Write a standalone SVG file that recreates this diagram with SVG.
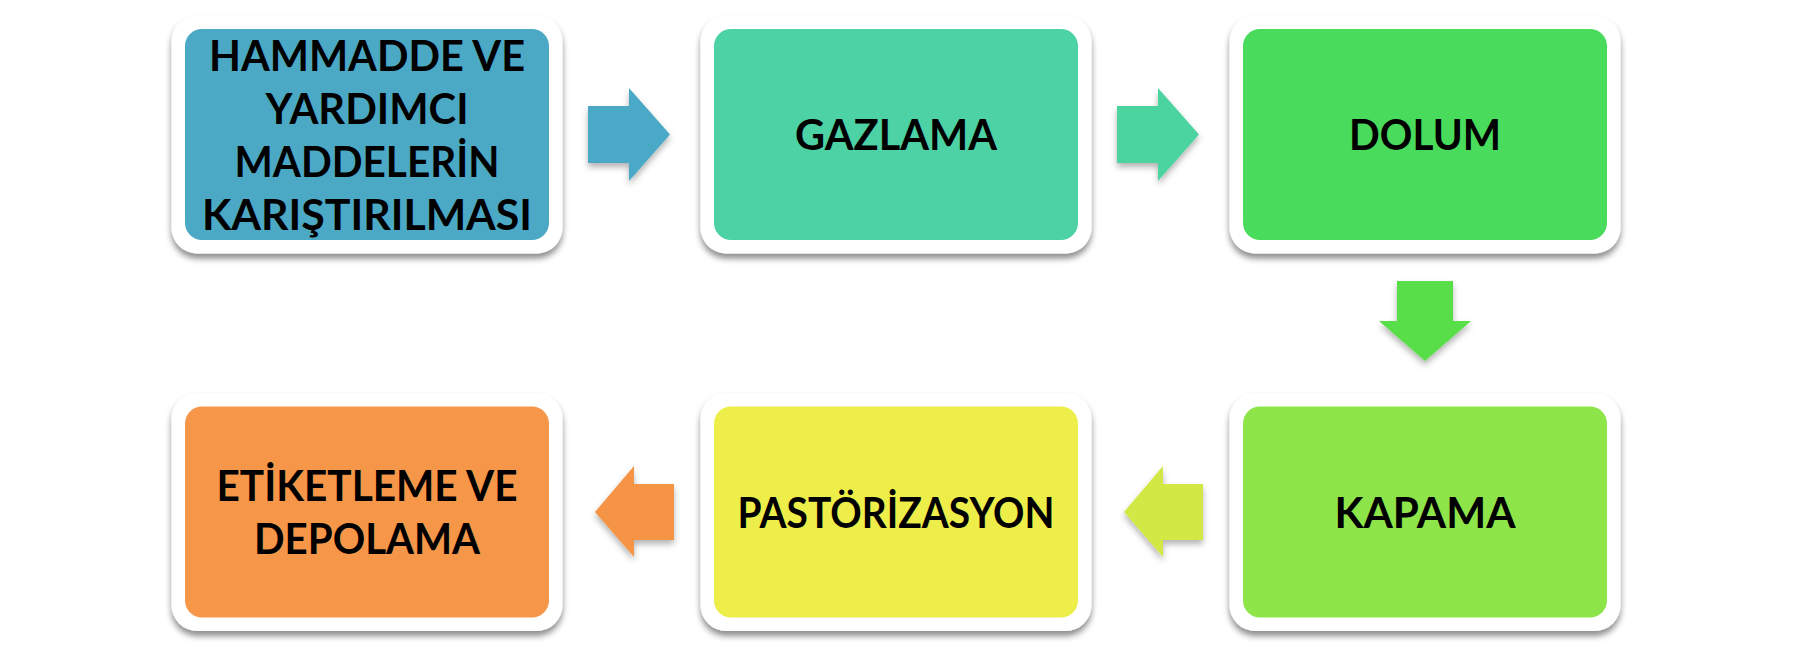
<svg xmlns="http://www.w3.org/2000/svg" width="1793" height="654" viewBox="0 0 1793 654">
<defs>
<filter id="sh" x="-10%" y="-10%" width="120%" height="130%">
<feDropShadow dx="0" dy="5" stdDeviation="3" flood-color="#000" flood-opacity="0.45"/>
</filter>
<filter id="ash" x="-20%" y="-20%" width="140%" height="150%">
<feDropShadow dx="0" dy="4" stdDeviation="3" flood-color="#000" flood-opacity="0.3"/>
</filter>
<style>
.frame{fill:#ffffff;filter:url(#sh);}
.lbl{font-family:Lato,"Open Sans","Liberation Sans",sans-serif;font-weight:bold;font-size:42.5px;fill:#000;text-anchor:middle;}
.arrow{filter:url(#ash);}
</style>
</defs>
<rect width="1793" height="654" fill="#ffffff"/>
<g id="connectors">
<polygon class="arrow" fill="#4AA9C6" points="588,106 629,106 629,88 670,134.5 629,181 629,163 588,163"/>
<polygon class="arrow" fill="#4CD3A0" points="1117,106 1158,106 1158,88 1199,134.5 1158,181 1158,163 1117,163"/>
<polygon class="arrow" fill="#58DE48" points="1397,281 1453,281 1453,321 1471,321 1425,361 1379,321 1397,321"/>
<polygon class="arrow" fill="#D1E845" points="1203,484 1163,484 1163,466 1124,512 1163,557 1163,540 1203,540"/>
<polygon class="arrow" fill="#F59445" points="674,484 634,484 634,466 595,512 634,557 634,540 674,540"/>
</g>
<g id="node1">
<rect class="frame" x="171.5" y="15.5" width="391" height="238" rx="26"/>
<rect x="185" y="29" width="364" height="211" rx="17" fill="#4BA9C6"/>
<text class="lbl" x="367" y="71" textLength="316" lengthAdjust="spacingAndGlyphs">HAMMADDE VE</text>
<text class="lbl" x="367" y="124" textLength="203" lengthAdjust="spacingAndGlyphs">YARDIMCI</text>
<text class="lbl" x="367" y="177" textLength="265" lengthAdjust="spacingAndGlyphs">MADDELERİN</text>
<text class="lbl" x="367" y="230" textLength="330" lengthAdjust="spacingAndGlyphs">KARIŞTIRILMASI</text>
</g>
<g id="node2">
<rect class="frame" x="700.5" y="15.5" width="391" height="238" rx="26"/>
<rect x="714" y="29" width="364" height="211" rx="17" fill="#4CD2A5"/>
<text class="lbl" x="896" y="150" textLength="202" lengthAdjust="spacingAndGlyphs">GAZLAMA</text>
</g>
<g id="node3">
<rect class="frame" x="1229.5" y="15.5" width="391" height="238" rx="26"/>
<rect x="1243" y="29" width="364" height="211" rx="17" fill="#48DB5C"/>
<text class="lbl" x="1425" y="150" textLength="152" lengthAdjust="spacingAndGlyphs">DOLUM</text>
</g>
<g id="node4">
<rect class="frame" x="1229.5" y="393" width="391" height="238" rx="26"/>
<rect x="1243" y="406.5" width="364" height="211" rx="17" fill="#8EE54A"/>
<text class="lbl" x="1425" y="528" textLength="181" lengthAdjust="spacingAndGlyphs">KAPAMA</text>
</g>
<g id="node5">
<rect class="frame" x="700.5" y="393" width="391" height="238" rx="26"/>
<rect x="714" y="406.5" width="364" height="211" rx="17" fill="#EEEE4A"/>
<text class="lbl" x="896" y="528" textLength="317" lengthAdjust="spacingAndGlyphs">PASTÖRİZASYON</text>
</g>
<g id="node6">
<rect class="frame" x="171.5" y="393" width="391" height="238" rx="26"/>
<rect x="185" y="406.5" width="364" height="211" rx="17" fill="#F69649"/>
<text class="lbl" x="367" y="501" textLength="301" lengthAdjust="spacingAndGlyphs">ETİKETLEME VE</text>
<text class="lbl" x="367" y="554" textLength="226" lengthAdjust="spacingAndGlyphs">DEPOLAMA</text>
</g>
</svg>
